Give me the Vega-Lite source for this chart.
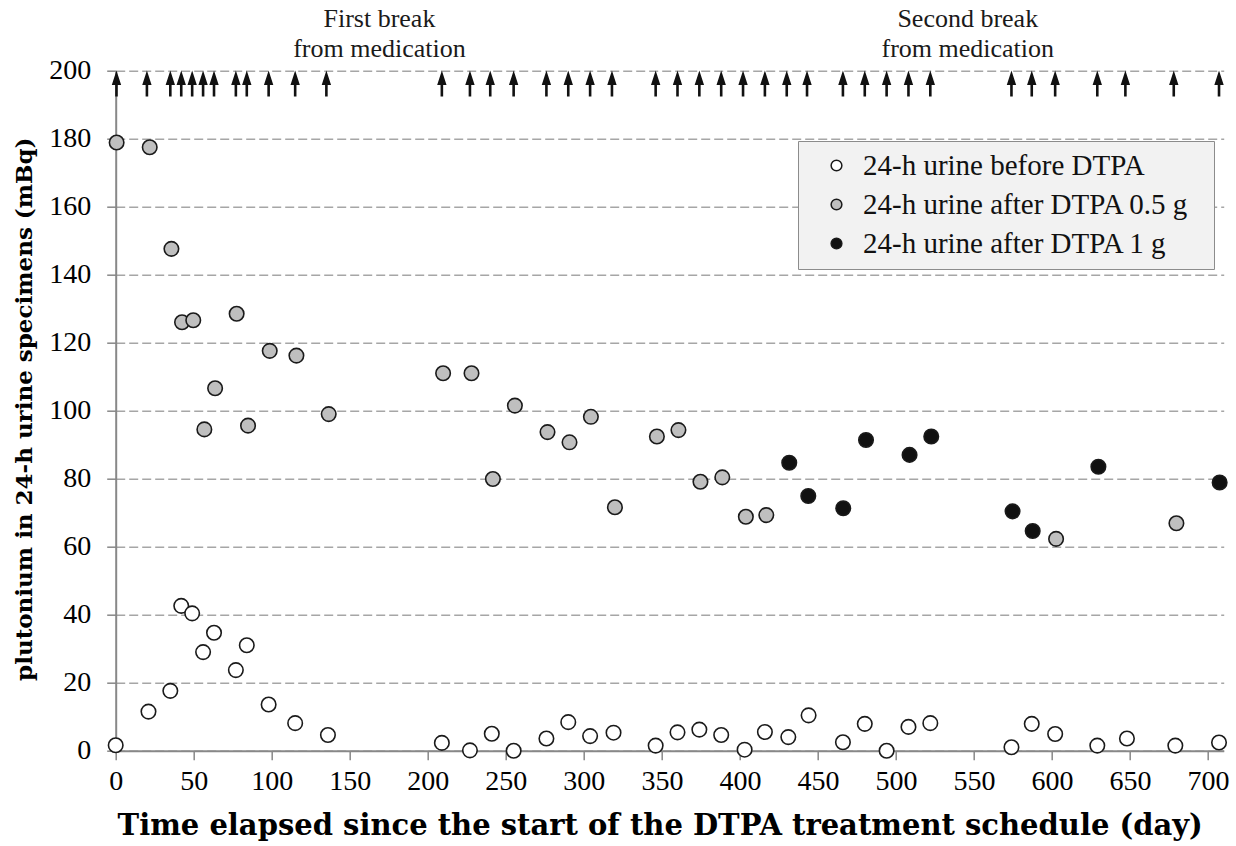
{
  "$schema": "https://vega.github.io/schema/vega-lite/v6.json",
  "width": 1108,
  "height": 680,
  "autosize": {"type": "none"},
  "padding": {"left": 115.7, "top": 70.7, "right": 12.3, "bottom": 95.3},
  "background": "#ffffff",
  "config": {
    "view": {"stroke": null},
    "font": "Liberation Serif"
  },
  "datasets": {
    "points": [
      {"day": 0, "value": 1.6, "series": "24-h urine before DTPA"},
      {"day": 21, "value": 11.5, "series": "24-h urine before DTPA"},
      {"day": 35, "value": 17.6, "series": "24-h urine before DTPA"},
      {"day": 42, "value": 42.6, "series": "24-h urine before DTPA"},
      {"day": 49, "value": 40.4, "series": "24-h urine before DTPA"},
      {"day": 56, "value": 29.0, "series": "24-h urine before DTPA"},
      {"day": 63, "value": 34.7, "series": "24-h urine before DTPA"},
      {"day": 77, "value": 23.7, "series": "24-h urine before DTPA"},
      {"day": 84, "value": 31.0, "series": "24-h urine before DTPA"},
      {"day": 98, "value": 13.6, "series": "24-h urine before DTPA"},
      {"day": 115, "value": 8.1, "series": "24-h urine before DTPA"},
      {"day": 136, "value": 4.6, "series": "24-h urine before DTPA"},
      {"day": 209, "value": 2.3, "series": "24-h urine before DTPA"},
      {"day": 227, "value": 0.1, "series": "24-h urine before DTPA"},
      {"day": 241, "value": 5.0, "series": "24-h urine before DTPA"},
      {"day": 255, "value": 0.0, "series": "24-h urine before DTPA"},
      {"day": 276, "value": 3.6, "series": "24-h urine before DTPA"},
      {"day": 290, "value": 8.4, "series": "24-h urine before DTPA"},
      {"day": 304, "value": 4.3, "series": "24-h urine before DTPA"},
      {"day": 319, "value": 5.3, "series": "24-h urine before DTPA"},
      {"day": 346, "value": 1.5, "series": "24-h urine before DTPA"},
      {"day": 360, "value": 5.4, "series": "24-h urine before DTPA"},
      {"day": 374, "value": 6.2, "series": "24-h urine before DTPA"},
      {"day": 388, "value": 4.6, "series": "24-h urine before DTPA"},
      {"day": 403, "value": 0.3, "series": "24-h urine before DTPA"},
      {"day": 416, "value": 5.5, "series": "24-h urine before DTPA"},
      {"day": 431, "value": 4.0, "series": "24-h urine before DTPA"},
      {"day": 444, "value": 10.4, "series": "24-h urine before DTPA"},
      {"day": 466, "value": 2.5, "series": "24-h urine before DTPA"},
      {"day": 480, "value": 7.9, "series": "24-h urine before DTPA"},
      {"day": 494, "value": 0.0, "series": "24-h urine before DTPA"},
      {"day": 508, "value": 7.0, "series": "24-h urine before DTPA"},
      {"day": 522, "value": 8.1, "series": "24-h urine before DTPA"},
      {"day": 574, "value": 1.0, "series": "24-h urine before DTPA"},
      {"day": 587, "value": 7.9, "series": "24-h urine before DTPA"},
      {"day": 602, "value": 4.9, "series": "24-h urine before DTPA"},
      {"day": 629, "value": 1.5, "series": "24-h urine before DTPA"},
      {"day": 648, "value": 3.6, "series": "24-h urine before DTPA"},
      {"day": 679, "value": 1.5, "series": "24-h urine before DTPA"},
      {"day": 707, "value": 2.4, "series": "24-h urine before DTPA"},
      {"day": 0.6, "value": 178.9, "series": "24-h urine after DTPA 0.5 g"},
      {"day": 21.8, "value": 177.5, "series": "24-h urine after DTPA 0.5 g"},
      {"day": 35.7, "value": 147.6, "series": "24-h urine after DTPA 0.5 g"},
      {"day": 42.5, "value": 126.0, "series": "24-h urine after DTPA 0.5 g"},
      {"day": 49.7, "value": 126.6, "series": "24-h urine after DTPA 0.5 g"},
      {"day": 56.8, "value": 94.5, "series": "24-h urine after DTPA 0.5 g"},
      {"day": 63.7, "value": 106.6, "series": "24-h urine after DTPA 0.5 g"},
      {"day": 77.5, "value": 128.5, "series": "24-h urine after DTPA 0.5 g"},
      {"day": 84.8, "value": 95.6, "series": "24-h urine after DTPA 0.5 g"},
      {"day": 98.7, "value": 117.6, "series": "24-h urine after DTPA 0.5 g"},
      {"day": 115.8, "value": 116.2, "series": "24-h urine after DTPA 0.5 g"},
      {"day": 136.5, "value": 99.0, "series": "24-h urine after DTPA 0.5 g"},
      {"day": 209.8, "value": 111.0, "series": "24-h urine after DTPA 0.5 g"},
      {"day": 228, "value": 111.0, "series": "24-h urine after DTPA 0.5 g"},
      {"day": 241.7, "value": 79.9, "series": "24-h urine after DTPA 0.5 g"},
      {"day": 255.8, "value": 101.5, "series": "24-h urine after DTPA 0.5 g"},
      {"day": 276.7, "value": 93.7, "series": "24-h urine after DTPA 0.5 g"},
      {"day": 290.8, "value": 90.7, "series": "24-h urine after DTPA 0.5 g"},
      {"day": 304.5, "value": 98.2, "series": "24-h urine after DTPA 0.5 g"},
      {"day": 319.9, "value": 71.6, "series": "24-h urine after DTPA 0.5 g"},
      {"day": 346.8, "value": 92.4, "series": "24-h urine after DTPA 0.5 g"},
      {"day": 360.6, "value": 94.3, "series": "24-h urine after DTPA 0.5 g"},
      {"day": 374.7, "value": 79.1, "series": "24-h urine after DTPA 0.5 g"},
      {"day": 388.7, "value": 80.4, "series": "24-h urine after DTPA 0.5 g"},
      {"day": 403.8, "value": 68.8, "series": "24-h urine after DTPA 0.5 g"},
      {"day": 416.9, "value": 69.3, "series": "24-h urine after DTPA 0.5 g"},
      {"day": 602.6, "value": 62.3, "series": "24-h urine after DTPA 0.5 g"},
      {"day": 679.7, "value": 66.9, "series": "24-h urine after DTPA 0.5 g"},
      {"day": 431.6, "value": 84.7, "series": "24-h urine after DTPA 1 g"},
      {"day": 443.8, "value": 74.9, "series": "24-h urine after DTPA 1 g"},
      {"day": 466.2, "value": 71.3, "series": "24-h urine after DTPA 1 g"},
      {"day": 480.8, "value": 91.4, "series": "24-h urine after DTPA 1 g"},
      {"day": 508.7, "value": 87.0, "series": "24-h urine after DTPA 1 g"},
      {"day": 522.6, "value": 92.4, "series": "24-h urine after DTPA 1 g"},
      {"day": 574.7, "value": 70.4, "series": "24-h urine after DTPA 1 g"},
      {"day": 587.6, "value": 64.6, "series": "24-h urine after DTPA 1 g"},
      {"day": 629.7, "value": 83.5, "series": "24-h urine after DTPA 1 g"},
      {"day": 707.4, "value": 78.9, "series": "24-h urine after DTPA 1 g"}
    ],
    "doses": [
      {"day": 0.5}, {"day": 20}, {"day": 35}, {"day": 42}, {"day": 49}, {"day": 56}, {"day": 63}, {"day": 77}, {"day": 84}, {"day": 98}, {"day": 115}, {"day": 135},
      {"day": 209}, {"day": 227}, {"day": 240}, {"day": 255}, {"day": 276}, {"day": 290}, {"day": 304}, {"day": 318}, {"day": 346}, {"day": 360}, {"day": 374}, {"day": 388}, {"day": 402}, {"day": 416}, {"day": 430}, {"day": 443},
      {"day": 466}, {"day": 480}, {"day": 494}, {"day": 508}, {"day": 522}, {"day": 574}, {"day": 587}, {"day": 602}, {"day": 629}, {"day": 647}, {"day": 678}, {"day": 707}
    ],
    "notes": [
      {"day": 169, "label": ["First break", "from medication"]},
      {"day": 546, "label": ["Second break", "from medication"]}
    ]
  },
  "layer": [
    {
      "data": {"name": "points"},
      "mark": {"type": "point", "filled": true, "size": 210, "opacity": 1, "stroke": "#1a1a1a", "strokeWidth": 1.6},
      "encoding": {
        "x": {
          "field": "day", "type": "quantitative",
          "scale": {"domain": [0, 710], "nice": false, "zero": false},
          "axis": {
            "values": [0, 50, 100, 150, 200, 250, 300, 350, 400, 450, 500, 550, 600, 650, 700],
            "grid": false,
            "labelFlush": false,
            "labelOverlap": false,
            "domainColor": "#888888", "domainWidth": 2,
            "tickColor": "#888888", "tickWidth": 1.5, "tickSize": 9,
            "labelFont": "Liberation Serif", "labelFontSize": 28, "labelColor": "#000000", "labelPadding": 8,
            "title": "Time elapsed since the start of the DTPA treatment schedule (day)",
            "titleFont": "DejaVu Serif", "titleFontSize": 29, "titleFontWeight": "bold", "titleColor": "#000000",
            "titleX": 544, "titleY": 84, "titleBaseline": "alphabetic", "titleAlign": "center"
          }
        },
        "y": {
          "field": "value", "type": "quantitative",
          "scale": {"domain": [0, 200], "nice": false},
          "axis": {
            "values": [0, 20, 40, 60, 80, 100, 120, 140, 160, 180, 200],
            "grid": true, "gridDash": [9, 4], "gridColor": "#a6a6a6", "gridWidth": 1.5,
            "domainColor": "#888888", "domainWidth": 2,
            "tickColor": "#888888", "tickWidth": 1.5, "tickSize": 9,
            "labelFont": "Liberation Serif", "labelFontSize": 28, "labelColor": "#000000", "labelPadding": 16,
            "title": "plutonium in 24-h urine specimens (mBq)",
            "titleFont": "DejaVu Serif", "titleFontSize": 23, "titleFontWeight": "bold", "titleColor": "#000000",
            "titleX": -84, "titleY": 338, "titleBaseline": "alphabetic", "titleAlign": "center", "titleAngle": 270
          }
        },
        "fill": {
          "field": "series", "type": "nominal",
          "scale": {
            "domain": ["24-h urine before DTPA", "24-h urine after DTPA 0.5 g", "24-h urine after DTPA 1 g"],
            "range": ["#ffffff", "#bfbfbf", "#111111"]
          },
          "legend": {
            "title": null,
            "orient": "none",
            "legendX": 682.3,
            "legendY": 70.3,
            "fillColor": "#f2f2f2",
            "strokeColor": "#8c8c8c",
            "padding": 10,
            "rowPadding": 9,
            "symbolType": "circle",
            "symbolSize": 115,
            "symbolStrokeColor": "#1a1a1a",
            "symbolStrokeWidth": 1.5,
            "symbolOffset": 14,
            "labelOffset": 12,
            "labelFont": "Liberation Serif",
            "labelFontSize": 29,
            "labelColor": "#111111",
            "labelLimit": 600,
            "labelExpr": "datum.label + '\u00a0\u00a0\u200b'"
          }
        }
      }
    },
    {
      "data": {"name": "doses"},
      "mark": {
        "type": "point",
        "filled": true,
        "shape": "M0,-1L0.36,0.1L0.1,0.1L0.1,1L-0.1,1L-0.1,0.1L-0.36,0.1Z",
        "size": 676,
        "fill": "#111111",
        "opacity": 1,
        "strokeWidth": 0
      },
      "encoding": {
        "x": {"field": "day", "type": "quantitative"},
        "y": {"datum": 196.2, "type": "quantitative"}
      }
    },
    {
      "data": {"name": "notes"},
      "mark": {
        "type": "text",
        "font": "Liberation Serif",
        "fontSize": 26,
        "lineHeight": 30,
        "align": "center",
        "baseline": "alphabetic",
        "color": "#1a1a1a"
      },
      "encoding": {
        "x": {"field": "day", "type": "quantitative"},
        "y": {"datum": 212.9, "type": "quantitative"},
        "text": {"field": "label", "type": "nominal"}
      }
    }
  ]
}
